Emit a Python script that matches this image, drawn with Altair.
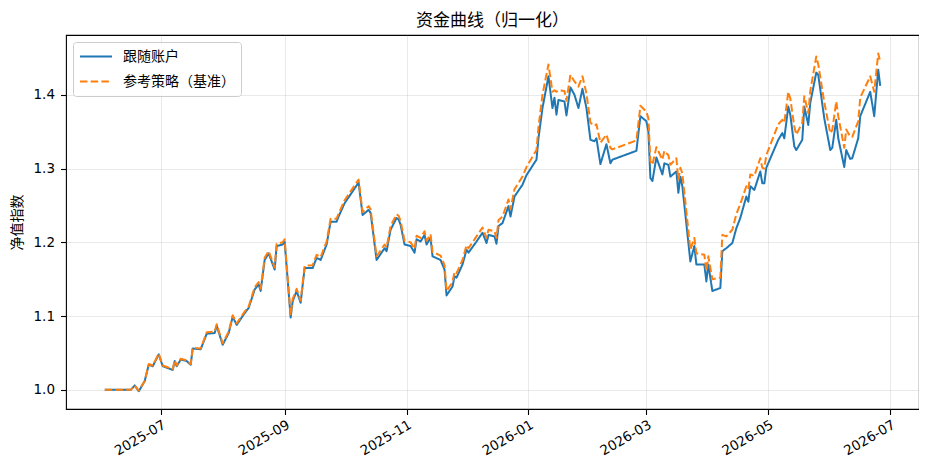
import altair as alt
import pandas as pd

FONT = "Noto Sans CJK SC"
TICK_FONT = "DejaVu Sans"
S1 = "跟随账户"
S2 = "参考策略（基准）"

dates = [
    "2025-06-03", "2025-06-16", "2025-06-18", "2025-06-20", "2025-06-23", "2025-06-25", "2025-06-27", "2025-06-30",
    "2025-07-02", "2025-07-07", "2025-07-08", "2025-07-09", "2025-07-11", "2025-07-14", "2025-07-16", "2025-07-17",
    "2025-07-21", "2025-07-24", "2025-07-28", "2025-07-29", "2025-08-01", "2025-08-04", "2025-08-06", "2025-08-08",
    "2025-08-12", "2025-08-14", "2025-08-17", "2025-08-19", "2025-08-20", "2025-08-22", "2025-08-24", "2025-08-27",
    "2025-08-28", "2025-08-31", "2025-09-01", "2025-09-04", "2025-09-05", "2025-09-07", "2025-09-09", "2025-09-11",
    "2025-09-15", "2025-09-17", "2025-09-19", "2025-09-22", "2025-09-24", "2025-09-27", "2025-09-28", "2025-10-01",
    "2025-10-08", "2025-10-10", "2025-10-13", "2025-10-14", "2025-10-17", "2025-10-21", "2025-10-22", "2025-10-24",
    "2025-10-27", "2025-10-28", "2025-10-29", "2025-10-31", "2025-11-03", "2025-11-05", "2025-11-06", "2025-11-08",
    "2025-11-10", "2025-11-11", "2025-11-13", "2025-11-14", "2025-11-18", "2025-11-20", "2025-11-21", "2025-11-24",
    "2025-11-25", "2025-11-26", "2025-11-29", "2025-12-01", "2025-12-02", "2025-12-06", "2025-12-09", "2025-12-11",
    "2025-12-12", "2025-12-15", "2025-12-16", "2025-12-17", "2025-12-19", "2025-12-22", "2025-12-23", "2025-12-25",
    "2025-12-29", "2025-12-31", "2026-01-05", "2026-01-06", "2026-01-08", "2026-01-11", "2026-01-13", "2026-01-14",
    "2026-01-15", "2026-01-16", "2026-01-19", "2026-01-20", "2026-01-22", "2026-01-24", "2026-01-26", "2026-01-28",
    "2026-01-30", "2026-02-01", "2026-02-03", "2026-02-04", "2026-02-06", "2026-02-09", "2026-02-11", "2026-02-12",
    "2026-02-24", "2026-02-26", "2026-03-01", "2026-03-02", "2026-03-03", "2026-03-04", "2026-03-06", "2026-03-09",
    "2026-03-10", "2026-03-12", "2026-03-13", "2026-03-16", "2026-03-17", "2026-03-18", "2026-03-19", "2026-03-23",
    "2026-03-25", "2026-03-26", "2026-03-30", "2026-03-31", "2026-04-01", "2026-04-03", "2026-04-07", "2026-04-08",
    "2026-04-10", "2026-04-13", "2026-04-15", "2026-04-17", "2026-04-20", "2026-04-21", "2026-04-22", "2026-04-24",
    "2026-04-27", "2026-04-28", "2026-04-29", "2026-04-30", "2026-05-06", "2026-05-08", "2026-05-09", "2026-05-11",
    "2026-05-12", "2026-05-14", "2026-05-15", "2026-05-18", "2026-05-19", "2026-05-21", "2026-05-22", "2026-05-25",
    "2026-05-26", "2026-05-29", "2026-06-01", "2026-06-02", "2026-06-04", "2026-06-05", "2026-06-08", "2026-06-09",
    "2026-06-11", "2026-06-12", "2026-06-15", "2026-06-16", "2026-06-21", "2026-06-23", "2026-06-25", "2026-06-26",
]

follow = [
    1.000, 1.000, 1.006, 0.998, 1.012, 1.034, 1.032, 1.048,
    1.032, 1.027, 1.039, 1.032, 1.041, 1.039, 1.034, 1.056,
    1.055, 1.076, 1.077, 1.087, 1.061, 1.077, 1.099, 1.088,
    1.104, 1.111, 1.136, 1.143, 1.134, 1.176, 1.185, 1.163,
    1.195, 1.197, 1.201, 1.098, 1.120, 1.134, 1.118, 1.165,
    1.165, 1.179, 1.176, 1.197, 1.228, 1.228, 1.235, 1.253,
    1.281, 1.237, 1.244, 1.240, 1.176, 1.192, 1.188, 1.217,
    1.233, 1.231, 1.224, 1.197, 1.195, 1.186, 1.204, 1.201,
    1.210, 1.197, 1.206, 1.181, 1.176, 1.163, 1.128, 1.140,
    1.154, 1.152, 1.170, 1.190, 1.186, 1.201, 1.213, 1.199,
    1.210, 1.208, 1.198, 1.222, 1.226, 1.249, 1.235, 1.262,
    1.278, 1.291, 1.312, 1.341, 1.382, 1.425, 1.382, 1.396,
    1.373, 1.393, 1.391, 1.372, 1.410, 1.400, 1.382, 1.408,
    1.382, 1.339, 1.337, 1.341, 1.306, 1.333, 1.307, 1.312,
    1.324, 1.371, 1.364, 1.350, 1.287, 1.283, 1.315, 1.292,
    1.307, 1.305, 1.289, 1.296, 1.267, 1.289, 1.276, 1.174,
    1.195, 1.170, 1.170, 1.147, 1.170, 1.134, 1.138, 1.188,
    1.192, 1.199, 1.219, 1.233, 1.262, 1.255, 1.276, 1.271,
    1.296, 1.280, 1.280, 1.301, 1.339, 1.348, 1.341, 1.384,
    1.373, 1.330, 1.325, 1.339, 1.384, 1.359, 1.389, 1.430,
    1.427, 1.368, 1.325, 1.328, 1.366, 1.341, 1.302, 1.325,
    1.313, 1.314, 1.341, 1.371, 1.404, 1.371, 1.434, 1.412,
]

bench = [
    1.000, 1.000, 1.006, 0.999, 1.012, 1.035, 1.033, 1.049,
    1.033, 1.028, 1.040, 1.033, 1.042, 1.040, 1.035, 1.057,
    1.056, 1.078, 1.079, 1.089, 1.063, 1.079, 1.101, 1.090,
    1.106, 1.113, 1.139, 1.146, 1.137, 1.179, 1.188, 1.166,
    1.198, 1.200, 1.204, 1.101, 1.123, 1.137, 1.121, 1.168,
    1.169, 1.183, 1.180, 1.201, 1.232, 1.232, 1.239, 1.257,
    1.285, 1.241, 1.249, 1.245, 1.181, 1.197, 1.193, 1.222,
    1.238, 1.236, 1.229, 1.202, 1.200, 1.191, 1.209, 1.206,
    1.215, 1.202, 1.211, 1.187, 1.182, 1.169, 1.134, 1.146,
    1.160, 1.158, 1.176, 1.196, 1.192, 1.208, 1.220, 1.206,
    1.217, 1.215, 1.206, 1.230, 1.235, 1.258, 1.245, 1.272,
    1.289, 1.302, 1.325, 1.356, 1.400, 1.441, 1.404, 1.406,
    1.404, 1.406, 1.405, 1.392, 1.427, 1.418, 1.411, 1.425,
    1.402, 1.362, 1.358, 1.360, 1.335, 1.346, 1.328, 1.326,
    1.338, 1.385, 1.377, 1.368, 1.310, 1.305, 1.329, 1.312,
    1.324, 1.318, 1.305, 1.314, 1.285, 1.301, 1.293, 1.190,
    1.206, 1.185, 1.183, 1.161, 1.181, 1.150, 1.152, 1.210,
    1.208, 1.217, 1.238, 1.252, 1.276, 1.272, 1.292, 1.290,
    1.314, 1.301, 1.300, 1.318, 1.360, 1.366, 1.362, 1.404,
    1.395, 1.357, 1.346, 1.362, 1.398, 1.375, 1.405, 1.452,
    1.441, 1.390, 1.348, 1.352, 1.391, 1.371, 1.328, 1.353,
    1.343, 1.343, 1.364, 1.396, 1.425, 1.404, 1.456, 1.445,
]

tick_dates = ["2025-07-01", "2025-09-01", "2025-11-01", "2026-01-01",
              "2026-03-01", "2026-05-01", "2026-07-01"]
y_ticks = [1.0, 1.1, 1.2, 1.3, 1.4]


def utc(s, hours=0, minutes=0):
    y, m, d = (int(p) for p in s.split("-"))
    return alt.DateTime(year=y, month=m, date=d, hours=hours, minutes=minutes, utc=True)


n = len(dates)
df = pd.DataFrame({
    "date": dates + dates,
    "value": follow + bench,
    "series": [S1] * n + [S2] * n,
    "k": [0] * n + [1] * n,
})

line = alt.Chart(df).mark_line(strokeWidth=2, strokeJoin="round").encode(
    x=alt.X(
        "date:T",
        scale=alt.Scale(type="utc", domain=[utc("2025-05-14", 14, 24), utc("2026-07-15", 9, 36)], nice=False),
        axis=alt.Axis(
            values=[utc(t) for t in tick_dates],
            format="%Y-%m",
            labelAngle=-30,
            labelAlign="right",
            labelBaseline="top",
            labelPadding=3,
            title=None,
        ),
    ),
    y=alt.Y(
        "value:Q",
        scale=alt.Scale(domain=[0.974, 1.481], nice=False, zero=False),
        axis=alt.Axis(values=y_ticks, format=".1f", title="净值指数", titlePadding=9, labelPadding=6),
    ),
    color=alt.Color(
        "series:N",
        scale=alt.Scale(domain=[S1, S2], range=["#1f77b4", "#ff7f0e"]),
        legend=alt.Legend(title=None),
    ),
    strokeDash=alt.StrokeDash(
        "series:N",
        scale=alt.Scale(domain=[S1, S2], range=[[1, 0], [7.5, 3.2]]),
        legend=alt.Legend(title=None),
    ),
    order=alt.Order("date:T"),
    detail="k:N",
)

chart = line.properties(
    width=853,
    height=374,
    title=alt.TitleParams(
        "资金曲线（归一化）", font=FONT, fontSize=17, fontWeight="normal",
        anchor="middle", offset=5, color="#000000",
    ),
    autosize=alt.AutoSizeParams(type="none"),
    padding={"left": 58, "top": 27, "right": 0, "bottom": 56},
).configure_view(
    stroke="#000000", strokeWidth=1.1,
).configure_axis(
    labelFont=TICK_FONT, labelFontSize=13.5, labelColor="#000000",
    titleFont=FONT, titleFontSize=14, titleFontWeight="normal", titleColor="#000000",
    domain=False,
    tickColor="#000000", tickSize=5.5, tickWidth=1.1,
    grid=True, gridColor="#b0b0b0", gridOpacity=0.35, gridWidth=0.8,
).configure_legend(
    orient="none", legendX=7, legendY=7,
    symbolType="stroke", symbolSize=1024, symbolStrokeWidth=2,
    clipHeight=17, rowPadding=8, labelOffset=10,
    labelFont=FONT, labelFontSize=14, labelColor="#000000",
    padding=6, fillColor="rgba(255,255,255,0.8)", strokeColor="#cccccc", cornerRadius=3,
)

chart.save("out.html", embed_options={"renderer": "svg", "actions": False})
